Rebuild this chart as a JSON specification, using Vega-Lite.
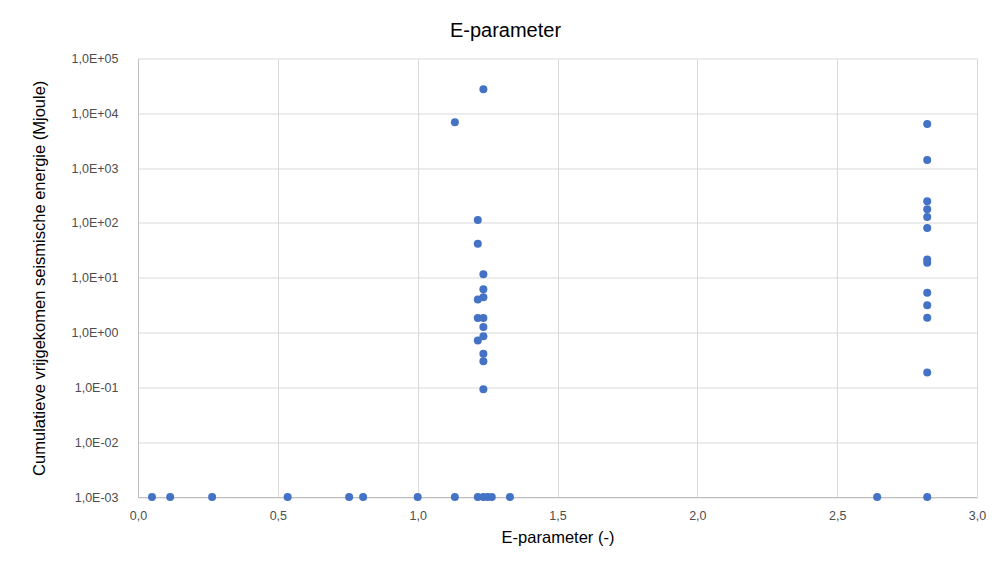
{
  "$schema": "https://vega.github.io/schema/vega-lite/v6.json",
  "autosize": {"type": "none"},
  "width": 839,
  "height": 438.5,
  "padding": {"left": 138, "top": 58.5, "right": 25, "bottom": 66},
  "background": "white",
  "title": {
    "text": "E-parameter",
    "fontSize": 20,
    "font": "Liberation Sans",
    "fontWeight": "normal",
    "color": "#000000",
    "offset": 12,
    "dx": -52
  },
  "data": {
    "values": [
      {"e": 0.05, "energy": 0.001},
      {"e": 0.115, "energy": 0.001},
      {"e": 0.265, "energy": 0.001},
      {"e": 0.535, "energy": 0.001},
      {"e": 0.755, "energy": 0.001},
      {"e": 0.805, "energy": 0.001},
      {"e": 1.0, "energy": 0.001},
      {"e": 1.133, "energy": 0.001},
      {"e": 1.133, "energy": 6850},
      {"e": 1.215, "energy": 113},
      {"e": 1.215, "energy": 41.5},
      {"e": 1.215, "energy": 4.0},
      {"e": 1.215, "energy": 1.84},
      {"e": 1.215, "energy": 0.72},
      {"e": 1.215, "energy": 0.001},
      {"e": 1.235, "energy": 27500},
      {"e": 1.235, "energy": 11.6},
      {"e": 1.235, "energy": 6.2},
      {"e": 1.235, "energy": 4.4},
      {"e": 1.235, "energy": 1.84},
      {"e": 1.235, "energy": 1.26},
      {"e": 1.235, "energy": 0.86},
      {"e": 1.235, "energy": 0.41},
      {"e": 1.235, "energy": 0.30},
      {"e": 1.235, "energy": 0.092},
      {"e": 1.235, "energy": 0.001},
      {"e": 1.25, "energy": 0.001},
      {"e": 1.265, "energy": 0.001},
      {"e": 1.33, "energy": 0.001},
      {"e": 2.643, "energy": 0.001},
      {"e": 2.822, "energy": 6380},
      {"e": 2.822, "energy": 1410},
      {"e": 2.822, "energy": 250},
      {"e": 2.822, "energy": 177},
      {"e": 2.822, "energy": 128},
      {"e": 2.822, "energy": 81},
      {"e": 2.822, "energy": 21.5},
      {"e": 2.822, "energy": 18.7},
      {"e": 2.822, "energy": 5.3},
      {"e": 2.822, "energy": 3.16},
      {"e": 2.822, "energy": 1.87},
      {"e": 2.822, "energy": 0.187},
      {"e": 2.822, "energy": 0.001}
    ]
  },
  "mark": {"type": "point", "filled": true, "shape": "circle", "size": 64, "color": "#4472C4", "opacity": 1},
  "encoding": {
    "x": {
      "field": "e",
      "type": "quantitative",
      "scale": {"domain": [0, 3], "nice": false, "zero": false},
      "axis": {
        "title": "E-parameter (-)",
        "values": [0, 0.5, 1, 1.5, 2, 2.5, 3],
        "labelExpr": "replace(format(datum.value, '.1f'), '.', ',')",
        "ticks": false,
        "labelFlush": false,
        "labelPadding": 12,
        "titlePadding": 8,
        "domainColor": "#bfbfbf",
        "gridColor": "#d9d9d9"
      }
    },
    "y": {
      "field": "energy",
      "type": "quantitative",
      "scale": {"type": "log", "domain": [0.001, 100000], "nice": false},
      "axis": {
        "title": "Cumulatieve vrijgekomen seismische energie (Mjoule)",
        "values": [0.001, 0.01, 0.1, 1, 10, 100, 1000, 10000, 100000],
        "labelExpr": "'1,0E' + (round(log(datum.value)/LN10) >= 0 ? '+' : '-') + (abs(round(log(datum.value)/LN10)) < 10 ? '0' : '') + abs(round(log(datum.value)/LN10))",
        "ticks": false,
        "labelFlush": false,
        "labelPadding": 20,
        "titlePadding": 24,
        "domainColor": "#bfbfbf",
        "gridColor": "#d9d9d9"
      }
    }
  },
  "config": {
    "view": {"stroke": null},
    "axis": {
      "labelFont": "Liberation Sans",
      "labelFontSize": 12.5,
      "labelColor": "#4d4d4d",
      "titleFont": "Liberation Sans",
      "titleFontSize": 16.5,
      "titleFontWeight": "normal",
      "titleColor": "#000000",
      "grid": true,
      "gridWidth": 1,
      "domainWidth": 1
    }
  }
}
